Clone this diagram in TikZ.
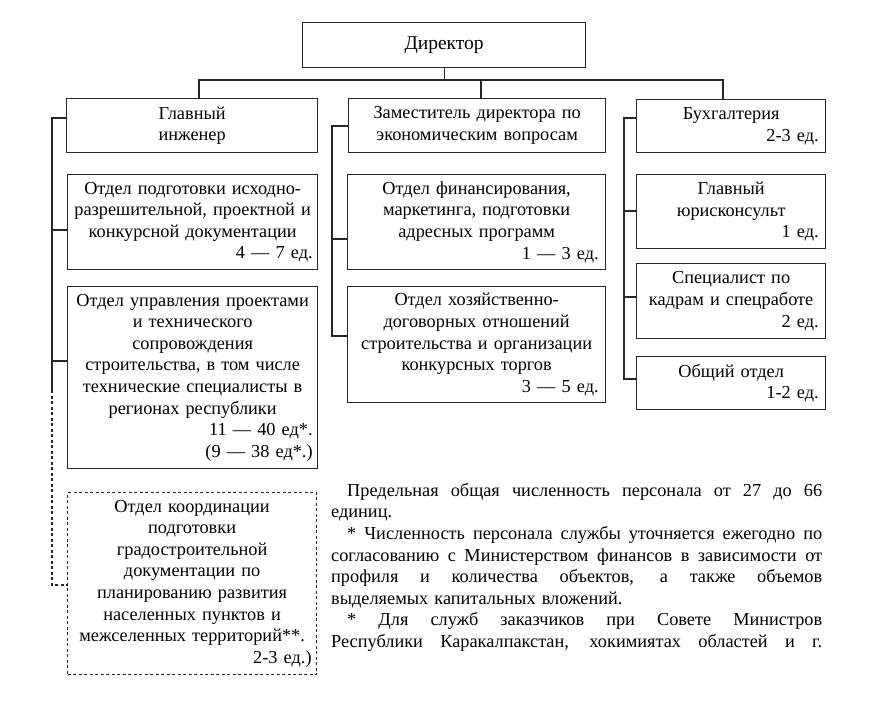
\documentclass[tikz,border=0pt]{standalone}
\usepackage{fontspec}
\setmainfont{Liberation Serif}
\newcommand{\jline}[2]{\makebox[#1][s]{\spaceskip=0pt\xspaceskip=0pt\relax #2}}
\begin{document}
\begin{tikzpicture}[x=1pt,y=-1pt,
  every node/.style={font=\fontsize{18.3}{21.6}\selectfont, text=black},
  box/.style={draw=black!85, line width=1.3pt, inner sep=0pt, anchor=north west, align=center},
  dbox/.style={box, dash pattern=on 3pt off 2.5pt, line width=1.2pt},
  conn/.style={draw=black!85, line width=1.3pt},
  dconn/.style={draw=black!85, line width=1.2pt, dash pattern=on 3pt off 2.5pt}]
\useasboundingbox (0,0) rectangle (894,716);
% Director
\node[box, minimum width=283pt, minimum height=45pt, text width=269pt, font=\fontsize{19.5}{22}\selectfont] (D) at (302,22) {Директор};
% column 1
\node[box, minimum width=251pt, minimum height=54pt, text width=239pt] (A0) at (66,98) {Главный\\инженер};
\node[box, minimum width=250pt, minimum height=95pt, text width=240pt] (A1) at (67,174) {Отдел подготовки исходно-\\разрешительной, проектной и\\конкурсной документации\\\hspace*{\fill}4 — 7 ед.};
\node[box, minimum width=250pt, minimum height=182pt, text width=240pt] (A2) at (67,286) {Отдел управления проектами\\и технического\\сопровождения\\строительства, в том числе\\технические специалисты в\\регионах республики\\\hspace*{\fill}11 — 40 ед*.\\\hspace*{\fill}(9 — 38 ед*.)};
\node[dbox, minimum width=249pt, minimum height=182pt, text width=239pt] (A3) at (67,492) {Отдел координации\\подготовки\\градостроительной\\документации по\\планированию развития\\населенных пунктов и\\межселенных территорий**.\\\hspace*{\fill}2-3 ед.)};
% column 2
\node[box, minimum width=257pt, minimum height=54pt, text width=243pt] (B0) at (348,98) {Заместитель директора по\\экономическим вопросам};
\node[box, minimum width=258pt, minimum height=95pt, text width=244pt] (B1) at (347,174) {Отдел финансирования,\\маркетинга, подготовки\\адресных программ\\\hspace*{\fill}1 — 3 ед.};
\node[box, minimum width=258pt, minimum height=116pt, text width=244pt] (B2) at (347,286) {Отдел хозяйственно-\\договорных отношений\\строительства и организации\\конкурсных торгов\\\hspace*{\fill}3 — 5 ед.};
% column 3
\node[box, minimum width=189pt, minimum height=53pt, text width=175pt] (C0) at (636,99) {Бухгалтерия\\\hspace*{\fill}2-3 ед.};
\node[box, minimum width=189pt, minimum height=74pt, text width=175pt] (C1) at (636,174) {Главный\\юрисконсульт\\\hspace*{\fill}1 ед.};
\node[box, minimum width=189pt, minimum height=75pt, text width=175pt] (C2) at (636,263) {Специалист по\\кадрам и спецработе\\\hspace*{\fill}2 ед.};
\node[box, minimum width=189pt, minimum height=53pt, text width=175pt] (C3) at (636,356) {Общий отдел\\\hspace*{\fill}1-2 ед.};
% top connectors
\coordinate (hL) at (199,80);
\coordinate (hM) at (481,80);
\coordinate (hR) at (723,80);
\draw[conn] (D.south) -- (D.south |- hL);
\draw[conn] (hL |- A0.north) -- (hL) -- (hR) -- (hR |- C0.north);
\draw[conn] (hM) -- (hM |- B0.north);
% column 1 rail
\coordinate (a0) at (52,118);
\coordinate (a1) at (52,230);
\coordinate (a2) at (52,361);
\coordinate (aS) at (52,390);
\coordinate (a3) at (52,585);
\draw[conn] (a0 -| A0.west) -- (a0) -- (aS);
\draw[conn] (a1) -- (a1 -| A1.west);
\draw[conn] (a2) -- (a2 -| A2.west);
\draw[dconn] (aS) -- (a3) -- (a3 -| A3.west);
% column 2 rail
\coordinate (b0) at (332,126);
\coordinate (b1) at (332,239);
\coordinate (b2) at (332,336);
\draw[conn] (b0 -| B0.west) -- (b0) -- (b2) -- (b2 -| B2.west);
\draw[conn] (b1) -- (b1 -| B1.west);
% column 3 rail
\coordinate (c0) at (624,118);
\coordinate (c1) at (624,211);
\coordinate (c2) at (624,297);
\coordinate (c3) at (624,379);
\draw[conn] (c0 -| C0.west) -- (c0) -- (c3) -- (c3 -| C3.west);
\draw[conn] (c1) -- (c1 -| C1.west);
\draw[conn] (c2) -- (c2 -| C2.west);
% notes
\node[anchor=north west, inner sep=0pt, text width=491pt, align=left] (T) at (331,483) {%
\hspace*{16pt}\jline{475pt}{Предельная общая численность персонала от 27 до 66}\\
единиц.\\
\hspace*{16pt}\jline{475pt}{* Численность персонала службы уточняется ежегодно по}\\
\jline{491pt}{согласованию с Министерством финансов в зависимости от}\\
\jline{491pt}{профиля и количества объектов, а также объемов}\\
выделяемых капитальных вложений.\\
\hspace*{16pt}\jline{475pt}{* Для служб заказчиков при Совете Министров}\\
\jline{491pt}{Республики Каракалпакстан, хокимиятах областей и г.}};
\end{tikzpicture}
\end{document}
